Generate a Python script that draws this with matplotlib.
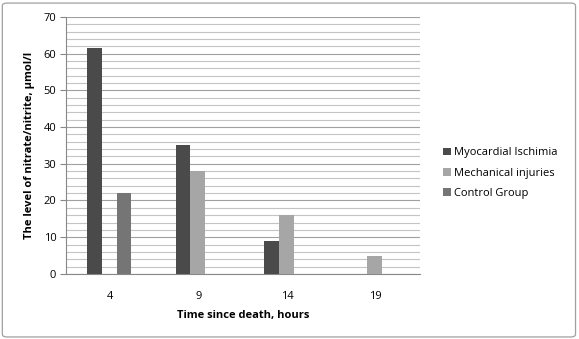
import numpy as np
import matplotlib.pyplot as plt
from matplotlib.patches import FancyBboxPatch
from matplotlib.ticker import MultipleLocator

hours = ["4", "9", "14", "19"]
myocardial = [61.5, 35, 9, np.nan]
mechanical = [np.nan, 28, 16, 5]
control = [22, np.nan, np.nan, np.nan]

series = [
    ("Myocardial Ischimia", myocardial, "#4a4a4a"),
    ("Mechanical injuries", mechanical, "#a6a6a6"),
    ("Control Group", control, "#757575"),
]

plt.rcParams["font.family"] = ["Open Sans", "DejaVu Sans"]

fig = plt.figure(figsize=(5.79, 3.39), dpi=100)
ax = fig.add_axes([0.114, 0.192, 0.611, 0.758])

x = np.arange(len(hours))
width = 0.166
for i, (label, vals, color) in enumerate(series):
    ax.bar(x + (i - 1) * width - 0.01, vals, width, color=color, label=label, zorder=3)

ax.set_xlim(-0.5, 3.5)
ax.set_ylim(0, 70)
ax.yaxis.set_major_locator(MultipleLocator(10))
ax.yaxis.set_minor_locator(MultipleLocator(2))
ax.grid(True, which="major", axis="y", color="#a0a0a0", linewidth=0.8, zorder=0)
ax.grid(True, which="minor", axis="y", color="#c4c4c4", linewidth=0.8, zorder=0)
ax.set_xticks(x)
ax.set_xticklabels(hours)
ax.tick_params(axis="x", length=0, pad=12, labelsize=8)
ax.tick_params(axis="y", which="major", length=4, color="#888888", labelsize=8, pad=3)
ax.tick_params(axis="y", which="minor", length=0)
for s in ("top", "right"):
    ax.spines[s].set_visible(False)
for s in ("left", "bottom"):
    ax.spines[s].set_color("#888888")

ax.set_xlabel("Time since death, hours", fontsize=8, fontweight="bold", labelpad=6)
ax.set_ylabel("The level of nitrate/nitrite, µmol/l", fontsize=8, fontweight="bold", labelpad=6)

fig.legend(loc="upper left", bbox_to_anchor=(0.748, 0.595), frameon=False, fontsize=8,
           handlelength=0.7, handleheight=0.7, handletextpad=0.3, labelspacing=0.85)

border = FancyBboxPatch((0.004, 0.006), 0.99, 0.985, boxstyle="round,pad=0,rounding_size=0.008",
                        transform=fig.transFigure, fill=False, edgecolor="#a0a0a0", linewidth=0.9)
fig.patches.append(border)

fig.savefig("out.png", dpi=100)
